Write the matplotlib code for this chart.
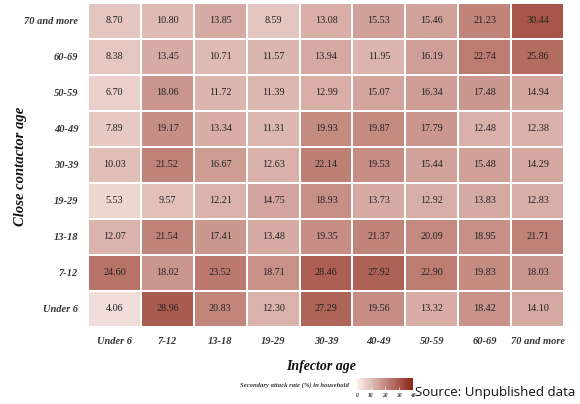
import numpy as np
import matplotlib.pyplot as plt
from matplotlib.colors import LinearSegmentedColormap

# age groups, contactor rows listed top to bottom
infector_ages = ['Under 6', '7-12', '13-18', '19-29', '30-39', '40-49', '50-59', '60-69', '70 and more']
contactor_ages = ['70 and more', '60-69', '50-59', '40-49', '30-39', '19-29', '13-18', '7-12', 'Under 6']

row_70plus = [8.70, 10.80, 13.85, 8.59, 13.08, 15.53, 15.46, 21.23, 30.44]
row_60_69 = [8.38, 13.45, 10.71, 11.57, 13.94, 11.95, 16.19, 22.74, 25.86]
row_50_59 = [6.70, 18.06, 11.72, 11.39, 12.99, 15.07, 16.34, 17.48, 14.94]
row_40_49 = [7.89, 19.17, 13.34, 11.31, 19.93, 19.87, 17.79, 12.48, 12.38]
row_30_39 = [10.03, 21.52, 16.67, 12.63, 22.14, 19.53, 15.44, 15.48, 14.29]
row_19_29 = [5.53, 9.57, 12.21, 14.75, 18.93, 13.73, 12.92, 13.83, 12.83]
row_13_18 = [12.07, 21.54, 17.41, 13.48, 19.35, 21.37, 20.09, 18.95, 21.71]
row_7_12 = [24.60, 18.02, 23.52, 18.71, 28.46, 27.92, 22.90, 19.83, 18.03]
row_under6 = [4.06, 28.96, 20.83, 12.30, 27.29, 19.56, 13.32, 18.42, 14.10]

cbar_ticks = [0, 10, 20, 30, 40]

rates = np.array([row_70plus, row_60_69, row_50_59, row_40_49, row_30_39,
                  row_19_29, row_13_18, row_7_12, row_under6])

cmap = LinearSegmentedColormap.from_list('reds', ['#fcf1ee', '#8c2414'])
serif = 'Liberation Serif'

fig = plt.figure(figsize=(5.8, 4.04), dpi=100)
ax = fig.add_axes([0.1517, 0.1906, 0.8207, 0.802])

n_rows, n_cols = rates.shape
mesh = ax.pcolormesh(np.arange(n_cols + 1), np.arange(n_rows + 1), rates,
                     cmap=cmap, vmin=0, vmax=40, edgecolors='white', linewidth=1.2)
ax.set_xlim(0, n_cols)
ax.set_ylim(n_rows, 0)

for i in range(n_rows):
    for j in range(n_cols):
        ax.text(j + 0.5, i + 0.5, f'{rates[i, j]:.2f}', ha='center', va='center',
                fontsize=7.3, family=serif, color='#222222')

ax.set_xticks(np.arange(n_cols) + 0.5)
ax.set_xticklabels(infector_ages, family=serif, fontsize=7.5, fontweight='bold',
                   style='italic', color='#333333')
ax.set_yticks(np.arange(n_rows) + 0.5)
ax.set_yticklabels(contactor_ages, family=serif, fontsize=7.5, fontweight='bold',
                   style='italic', color='#333333')
ax.tick_params(length=0, pad=7)
for s in ax.spines.values():
    s.set_visible(False)

fig.text(0.553, 0.092, 'Infector age', ha='center', va='center', family=serif,
         fontsize=10, fontweight='bold', style='italic', color='#111111')
fig.text(0.035, 0.589, 'Close contactor age', ha='center', va='center', rotation=90,
         family=serif, fontsize=10.5, fontweight='bold', style='italic', color='#111111')

# colour key
cax = fig.add_axes([0.6155, 0.0347, 0.0966, 0.0297])
cb = fig.colorbar(mesh, cax=cax, orientation='horizontal')
cb.outline.set_visible(False)
cb.set_ticks(cbar_ticks)
cax.tick_params(length=2.5, width=0.5, color='white', pad=2, labelsize=4,
                labelcolor='#333333')
for lbl in cax.get_xticklabels():
    lbl.set_family(serif)
    lbl.set_fontweight('bold')
    lbl.set_style('italic')
cax.tick_params(direction='in')
fig.text(0.602, 0.047, 'Secondary attack rate (%) in household', ha='right', va='center',
         family=serif, fontsize=4.8, fontweight='bold', style='italic', color='#333333')

fig.text(0.716, 0.028, 'Source: Unpublished data', ha='left', va='center',
         family='Open Sans', fontsize=9.5, color='#111111')

fig.savefig('out.png', dpi=100)
